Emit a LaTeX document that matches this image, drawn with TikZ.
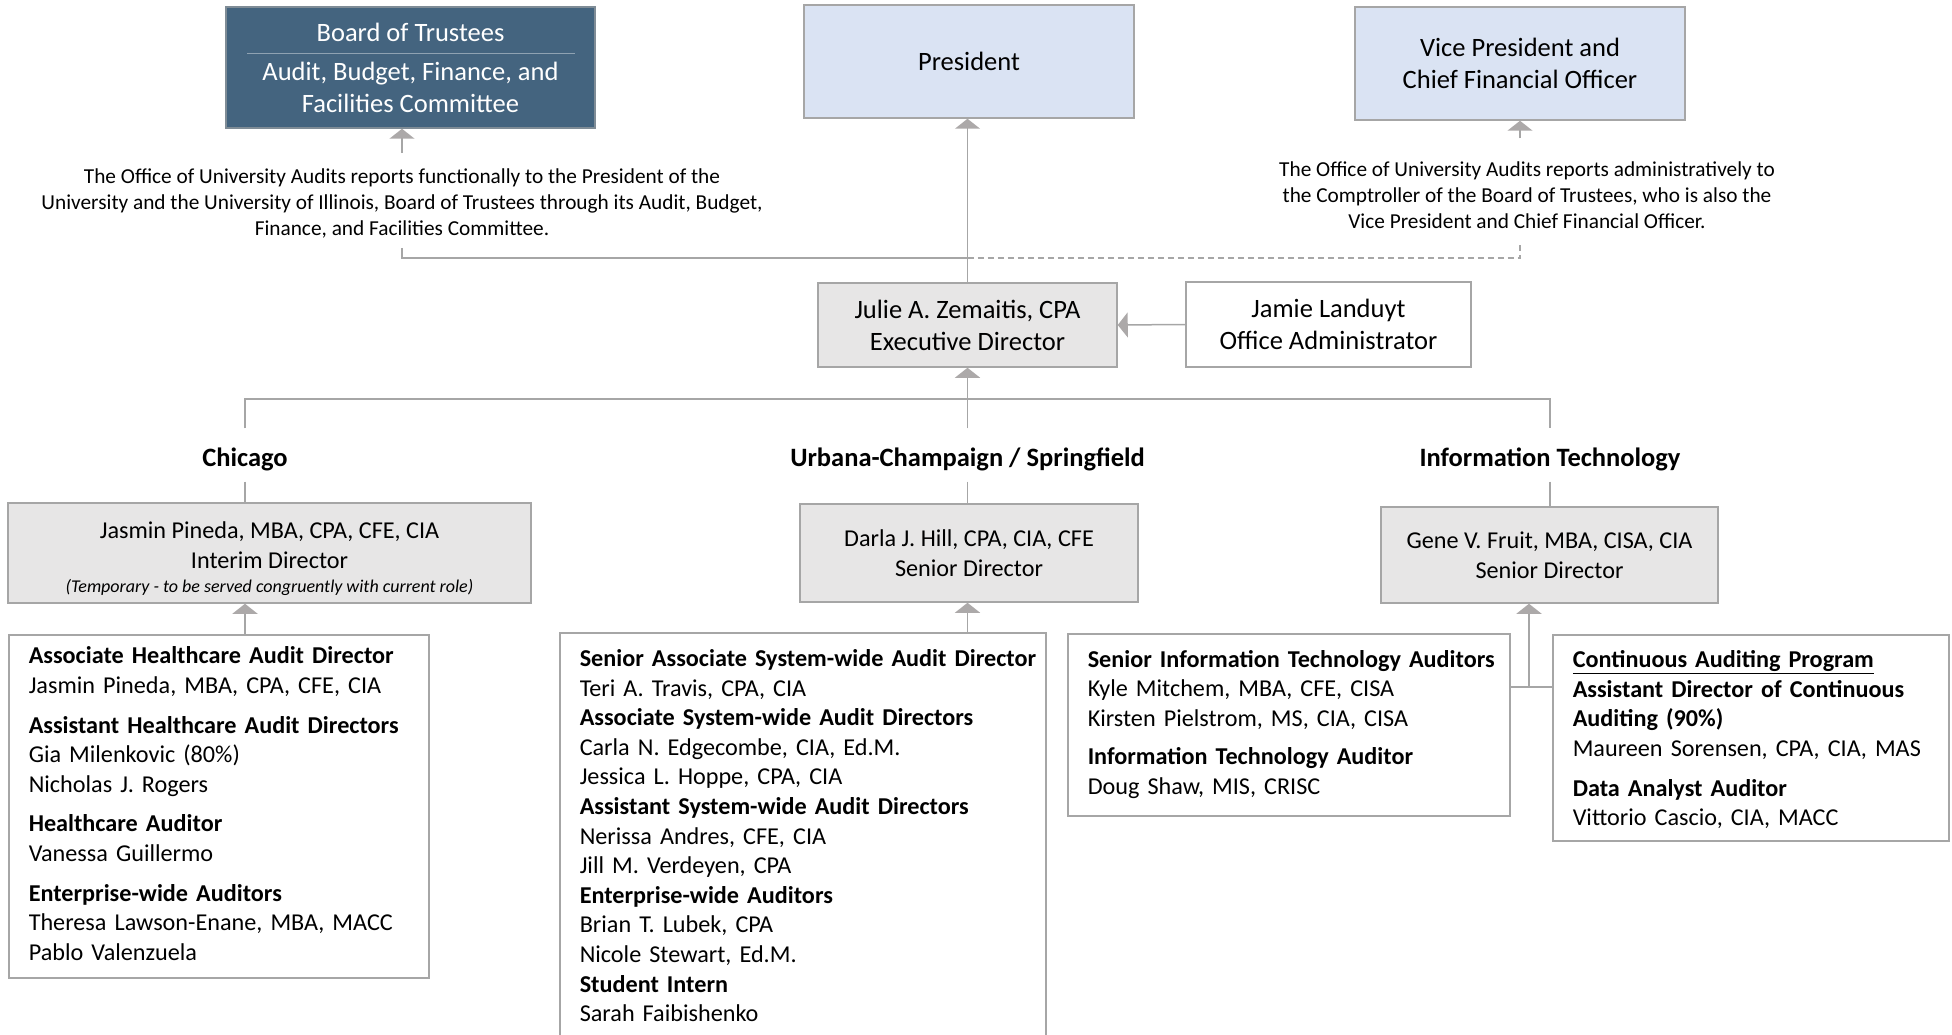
\documentclass[tikz,border=0pt]{standalone}
\usepackage{fontspec}
\setmainfont{Carlito}
\usetikzlibrary{arrows.meta}
\definecolor{trustee}{HTML}{44647F}
\definecolor{chiefblue}{HTML}{DAE3F3}
\definecolor{staffgray}{HTML}{E7E6E6}
\definecolor{rulegray}{HTML}{A6A6A6}
\definecolor{tipgray}{HTML}{ACA9A9}
\newcommand\boxfont{\fontsize{26.5}{32}\selectfont}
\newcommand\teamfont{\fontsize{24.2}{29.6}\selectfont}
\newcommand\notefont{\fontsize{21.3}{26}\selectfont}
\tikzset{
	link/.style={draw=rulegray, line width=1.5pt},
	up/.style={link, -{Triangle[width=25pt,length=10pt,color=tipgray]}},
	chief/.style={draw=rulegray, line width=1.5pt, fill=chiefblue, font=\boxfont, align=center, inner sep=0pt},
	staff/.style={draw=rulegray, line width=1.5pt, fill=staffgray, align=center, inner sep=0pt},
	team/.style={draw=rulegray, line width=1.5pt, fill=white, font=\teamfont, align=left, anchor=north west, inner xsep=20pt, inner ysep=0pt},
	region/.style={font=\boxfont\bfseries, minimum height=53pt, inner sep=0pt, text height=22.6pt, text depth=0pt},
	note/.style={font=\notefont, align=center, inner sep=0pt}
}

\begin{document}
\begin{tikzpicture}[x=1pt,y=-1pt]
			%%%%% START %%%%%
			\useasboundingbox (0,0) rectangle (1952,1035);
			
			% top row
			\node[draw=rulegray!60!trustee, line width=1.5pt, fill=trustee, text=white, font=\boxfont, align=center, minimum width=369pt, minimum height=121pt, inner sep=0pt] (board) at (410.5,67.5) {Board of Trustees\\[7pt]Audit, Budget, Finance, and\\Facilities Committee};
			\draw[white!40!trustee, line width=1pt] (247,54) -- (575,54);
			\node[chief, minimum width=330pt, minimum height=113pt] (pres) at (969,61.5) {President};
			\node[chief, minimum width=330pt, minimum height=113pt] (vp) at (1520,63.5) {Vice President and\\Chief Financial Officer};
			
			\node[note] (funcnote) at (402,203) {The Office of University Audits reports functionally to the President of the\\University and the University of Illinois, Board of Trustees through its Audit, Budget,\\Finance, and Facilities Committee.};
			\node[note] (adminnote) at (1527,195) {The Office of University Audits reports administratively to\\the Comptroller of the Board of Trustees, who is also the\\Vice President and Chief Financial Officer.};
			
			% executive
			\node[staff, font=\boxfont, minimum width=299pt, minimum height=84pt] (exec) at (967.5,325) {Julie A. Zemaitis, CPA\\Executive Director};
			\node[staff, fill=white, font=\boxfont, minimum width=285pt, minimum height=85pt] (admin) at (1328.5,324.5) {Jamie Landuyt\\Office Administrator};
			
			\coordinate (fn) at (exec.north |- 0,258);
			\coordinate (bus) at (exec.south |- 0,399);
			
			\draw[up] (exec.north) -- (exec.north |- pres.south);
			\draw[up] ([yshift=15pt]funcnote.north) -- (funcnote.north |- board.south);
			\draw[up] ([yshift=23pt]vp.south |- adminnote.north) -- (vp.south);
			\draw[link] ([yshift=-10pt]funcnote.south) |- (fn);
			\draw[link, dash pattern=on 6pt off 4pt] (fn) -| ([yshift=-13pt]vp.south |- adminnote.south);
			\draw[up] (admin.west) -- (exec.east);
			
			% regions
			\node[region] (chicago) at (245,455) {Chicago};
			\node[region] (urbana) at (967.5,455) {Urbana-Champaign / Springfield};
			\node[region] (infotech) at (1550,455) {Information Technology};
			
			\draw[up] (bus) -- (exec.south);
			\draw[link] (chicago.north) |- (bus) -| (infotech.north);
			\draw[link] (urbana.north) -- (urbana.north |- bus);
			
			\node[staff, font=\teamfont, minimum width=523pt, minimum height=100pt] (chidir) at (269.5,553) {\rule{0pt}{28pt}Jasmin Pineda, MBA, CPA, CFE, CIA\\Interim Director\\[-6pt]{\fontsize{18}{22}\selectfont\itshape (Temporary - to be served congruently with current role)}};
			\node[staff, font=\teamfont, minimum width=338pt, minimum height=98pt] (urbdir) at (969,553) {Darla J. Hill, CPA, CIA, CFE\\Senior Director};
			\node[staff, font=\teamfont, minimum width=337pt, minimum height=96pt] (itdir) at (1549.5,555) {Gene V. Fruit, MBA, CISA, CIA\\Senior Director};
			
			\draw[link] (chicago.south) -- (chicago.south |- chidir.north);
			\draw[link] (urbana.south) -- (urbana.south |- urbdir.north);
			\draw[link] (infotech.south) -- (infotech.south |- itdir.north);
			
			% teams
			\node[team, text width=380pt, minimum height=343pt] (chiteam) at (8,634) {\begin{tabular}{@{}l@{}}\textbf{Associate Healthcare Audit Director}\\Jasmin Pineda, MBA, CPA, CFE, CIA\\[10pt]\textbf{Assistant Healthcare Audit Directors}\\Gia Milenkovic (80\%)\\Nicholas J. Rogers\\[10pt]\textbf{Healthcare Auditor}\\Vanessa Guillermo\\[10pt]\textbf{Enterprise-wide Auditors}\\Theresa Lawson-Enane, MBA, MACC\\Pablo Valenzuela\end{tabular}};
			\node[team, text width=446pt, minimum height=411pt] (urbteam) at (559,632) {\begin{tabular}{@{}l@{}}\textbf{Senior Associate System-wide Audit Director}\\Teri A. Travis, CPA, CIA\\\textbf{Associate System-wide Audit Directors}\\Carla N. Edgecombe, CIA, Ed.M.\\Jessica L. Hoppe, CPA, CIA\\\textbf{Assistant System-wide Audit Directors}\\Nerissa Andres, CFE, CIA\\Jill M. Verdeyen, CPA\\\textbf{Enterprise-wide Auditors}\\Brian T. Lubek, CPA\\Nicole Stewart, Ed.M.\\\textbf{Student Intern}\\Sarah Faibishenko\end{tabular}};
			\node[team, text width=402pt, minimum height=182pt] (itteam) at (1067,633) {\begin{tabular}{@{}l@{}}\textbf{Senior Information Technology Auditors}\\Kyle Mitchem, MBA, CFE, CISA\\Kirsten Pielstrom, MS, CIA, CISA\\[8.5pt]\textbf{Information Technology Auditor}\\Doug Shaw, MIS, CRISC\end{tabular}};
			\node[team, text width=356pt, minimum height=206pt] (capteam) at (1552,634) {\begin{tabular}{@{}l@{}}\textbf{\underline{Continuous Auditing Program}}\\\textbf{Assistant Director of Continuous}\\\textbf{Auditing (90\%)}\\Maureen Sorensen, CPA, CIA, MAS\\[10pt]\textbf{Data Analyst Auditor}\\Vittorio Cascio, CIA, MACC\\[-6pt]\end{tabular}};
			
			\draw[up] (chicago.south |- chiteam.north) -- (chicago.south |- chidir.south);
			\draw[up] (urbana.south |- urbteam.north) -- (urbana.south |- urbdir.south);
			\coordinate (itfork) at (1529,687);
			\draw[link] (itteam.east |- itfork) -- (capteam.west |- itfork);
			\draw[up] (itfork) -- (itfork |- itdir.south);
			
			%%%%% END %%%%%
\end{tikzpicture}
\end{document}
